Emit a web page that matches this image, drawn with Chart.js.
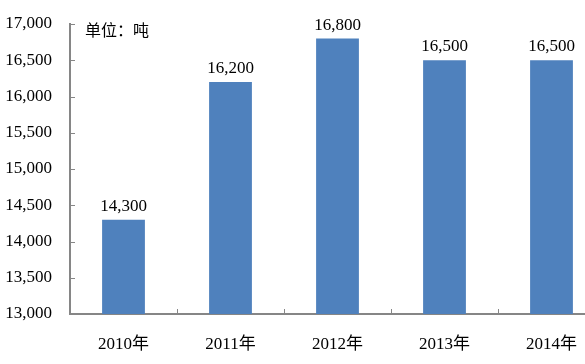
<!DOCTYPE html>
<html>
<head>
<meta charset="utf-8">
<script src="https://cdn.jsdelivr.net/npm/chart.js@4"></script>
<style>
    html, body { margin: 0; padding: 0; background: #fff; overflow: hidden; }
    #wrap { width: 605px; height: 364px; position: relative; }
</style>
</head>
<body>
<div id="wrap"><canvas id="output-chart"></canvas></div>
<script>
const years = ["2010年", "2011年", "2012年", "2013年", "2014年"];
const output = [14300, 16200, 16800, 16500, 16500];
const yTicks = [13000, 13500, 14000, 14500, 15000, 15500, 16000, 16500, 17000];
const unitText = "单位：吨";

const axisColor = "#868686";
const fontFamily = "'Liberation Serif', 'Times New Roman', 'Noto Sans CJK SC', serif";

// inner tick marks, value labels and the unit note
const extras = {
    id: "extras",
    afterDraw(chart) {
        const c = chart.ctx;
        const x = chart.scales.x;
        const y = chart.scales.y;
        const area = chart.chartArea;
        c.save();
        c.strokeStyle = axisColor;
        c.lineWidth = 1;
        yTicks.forEach(function (v) {
            const py = Math.round(y.getPixelForValue(v)) + 0.5;
            c.beginPath();
            c.moveTo(area.left, py);
            c.lineTo(area.left + 5, py);
            c.stroke();
        });
        for (let i = 0; i < years.length - 1; i++) {
            const px = Math.round((x.getPixelForValue(i) + x.getPixelForValue(i + 1)) / 2) + 0.5;
            c.beginPath();
            c.moveTo(px, area.bottom);
            c.lineTo(px, area.bottom - 5);
            c.stroke();
        }

        c.fillStyle = "#000";
        c.font = "17px " + fontFamily;
        c.textAlign = "center";
        c.textBaseline = "alphabetic";
        chart.getDatasetMeta(0).data.forEach(function (bar, i) {
            c.fillText(output[i].toLocaleString("en-US"), bar.x, bar.y - 9);
        });

        c.textAlign = "left";
        c.textBaseline = "middle";
        c.font = "16px 'Noto Sans CJK SC', sans-serif";
        c.fillText(unitText, area.left + 15, 30);
        c.restore();
    },
};

new Chart(document.getElementById("output-chart"), {
    type: "bar",
    data: {
        labels: years,
        datasets: [
            {
                data: output,
                backgroundColor: "#4F81BD",
                categoryPercentage: 0.8,
                barPercentage: 0.5,
            },
        ],
    },
    options: {
        responsive: true,
        maintainAspectRatio: false,
        animation: false,
        layout: { padding: { top: 24, left: 0, right: 0, bottom: 0 } },
        scales: {
            x: {
                grid: { display: false, drawTicks: false, tickLength: 0 },
                border: { color: axisColor, width: 2 },
                ticks: {
                    color: "#000",
                    font: { family: fontFamily, size: 17 },
                    padding: 20,
                },
                afterFit: function (scale) {
                    scale.height = 50;
                    scale.paddingLeft = 0;
                    scale.paddingRight = 0;
                },
            },
            y: {
                min: 13000,
                max: 17000,
                afterBuildTicks: function (scale) {
                    scale.ticks = yTicks.map(function (v) { return { value: v }; });
                },
                grid: { display: false, drawTicks: false, tickLength: 0 },
                border: { color: axisColor, width: 2 },
                ticks: {
                    color: "#000",
                    font: { family: fontFamily, size: 17 },
                    padding: 18,
                    callback: function (value) {
                        return value.toLocaleString("en-US");
                    },
                },
                afterFit: function (scale) {
                    scale.width = 70;
                    scale.paddingTop = 0;
                    scale.paddingBottom = 0;
                },
            },
        },
        plugins: {
            legend: { display: false },
            tooltip: { enabled: false },
        },
    },
    plugins: [extras],
});
</script>
</body>
</html>
